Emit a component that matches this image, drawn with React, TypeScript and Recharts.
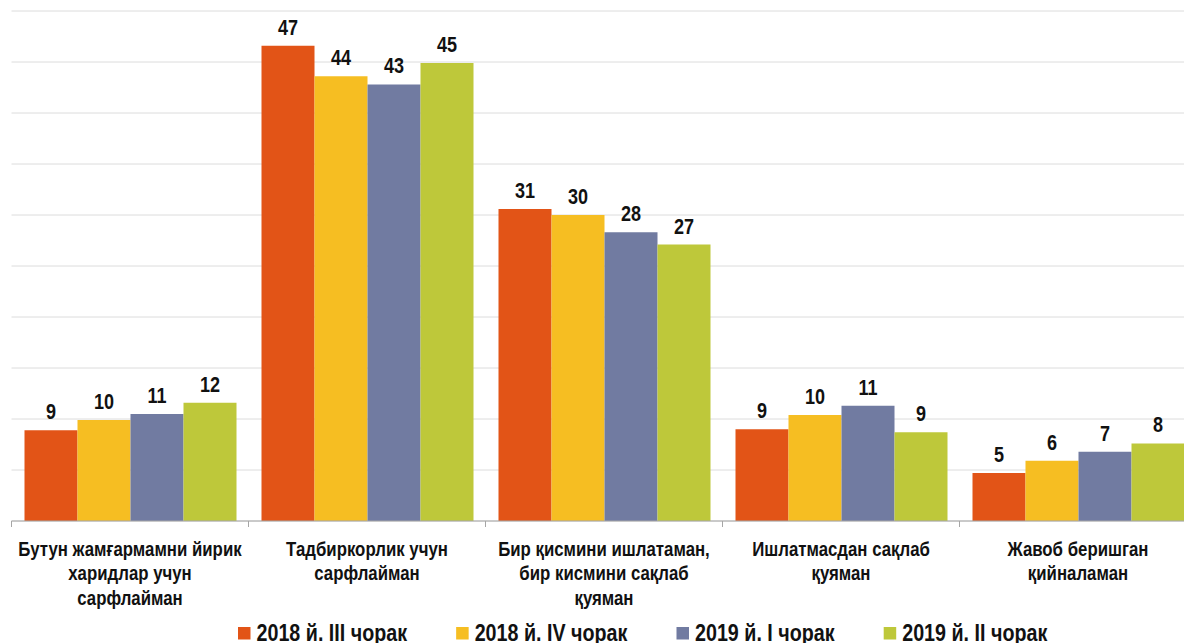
import { BarChart, Bar, XAxis, YAxis, CartesianGrid, LabelList } from "recharts";

const categories = [
    "Бутун жамғармамни йирик\nхаридлар учун\nсарфлайман",
    "Тадбиркорлик учун\nсарфлайман",
    "Бир қисмини ишлатаман,\nбир кисмини сақлаб\nқуяман",
    "Ишлатмасдан сақлаб\nқуяман",
    "Жавоб беришган\nқийналаман",
];

const seriesNames = ["2018 й. III чорак", "2018 й. IV чорак", "2019 й. I чорак", "2019 й. II чорак"];
const seriesColors = ["#E25417", "#F6BE22", "#717BA1", "#BEC83A"];

const q3_2018 = [8.9, 46.6, 30.6, 9.0, 4.7];
const q4_2018 = [9.9, 43.6, 30.0, 10.4, 5.9];
const q1_2019 = [10.5, 42.8, 28.3, 11.3, 6.8];
const q2_2019 = [11.6, 44.9, 27.1, 8.7, 7.6];

const yTicks = [0, 5, 10, 15, 20, 25, 30, 35, 40, 45, 50];

const data = categories.map((name, i) => ({
    name,
    s0: q3_2018[i],
    s1: q4_2018[i],
    s2: q1_2019[i],
    s3: q2_2019[i],
}));

// Arial Narrow look: Liberation Sans Bold squeezed horizontally
const FONT = "'Liberation Sans', Arial, sans-serif";
const NARROW = 0.82;
const LEGEND_NARROW = 0.857;

const LEFT = 11.5;
const BAND = 237;
const CHART_W = LEFT + BAND * categories.length + 2;

function CategoryTick(props: any) {
    const { x, y, payload, index } = props;
    const lines = String(payload.value).split("\n");
    const left = x - BAND / 2;
    return (
        <g>
            <line x1={left} y1={y} x2={left} y2={y + 6} stroke="#a6a6a6" />
            {index === categories.length - 1 && (
                <line x1={x + BAND / 2} y1={y} x2={x + BAND / 2} y2={y + 6} stroke="#a6a6a6" />
            )}
            <text
                transform={`translate(${x} ${y + 35}) scale(${NARROW} 1)`}
                x={0}
                y={0}
                textAnchor="middle"
                fontFamily={FONT}
                fontWeight="bold"
                fontSize={20.5}
                fill="#111"
            >
                {lines.map((l, i) => (
                    <tspan key={i} x={0} dy={i === 0 ? 0 : 24.5}>
                        {l}
                    </tspan>
                ))}
            </text>
        </g>
    );
}

function ValueLabel(props: any) {
    const { x, y, width, value } = props;
    const cx = Number(x) + Number(width) / 2;
    return (
        <text
            transform={`translate(${cx} ${Number(y) - 11}) scale(${NARROW} 1)`}
            textAnchor="middle"
            fontFamily={FONT}
            fontWeight="bold"
            fontSize={22}
            fill="#111"
        >
            {Math.round(Number(value))}
        </text>
    );
}

function measure(text: string, size: number) {
    const c = document.createElement("canvas").getContext("2d");
    if (!c) return text.length * size * 0.5;
    c.font = `bold ${size}px 'Liberation Sans', Arial, sans-serif`;
    return c.measureText(text).width * LEGEND_NARROW;
}

function LegendBar() {
    const size = 23;
    let cursor = 238;
    const items = seriesNames.map((n, i) => {
        const sx = cursor;
        const tx = sx + 18.5;
        const w = measure(n, size);
        cursor = tx + w + 49;
        return (
            <g key={n}>
                <rect x={sx} y={627} width={12.5} height={12.5} fill={seriesColors[i]} />
                <text
                    transform={`translate(${tx} 640.5) scale(${LEGEND_NARROW} 1)`}
                    fontFamily={FONT}
                    fontWeight="bold"
                    fontSize={size}
                    fill="#111"
                >
                    {n}
                </text>
            </g>
        );
    });
    return (
        <svg width={1184} height={643} style={{ position: "absolute", left: 0, top: 0, pointerEvents: "none" }}>
            {items}
        </svg>
    );
}

export default function App() {
    return (
        <div
            style={{
                position: "fixed",
                left: 0,
                top: 0,
                width: 1184,
                height: 643,
                overflow: "hidden",
                background: "#fff",
            }}
        >
            <BarChart
                width={CHART_W}
                height={643}
                data={data}
                margin={{ top: 11, right: 2, bottom: 0, left: LEFT }}
                barCategoryGap={13}
                barGap={0}
            >
                <CartesianGrid horizontal vertical={false} stroke="#dcdcdc" />
                <YAxis hide domain={[0, 50]} ticks={yTicks} width={0} />
                <XAxis
                    dataKey="name"
                    height={122}
                    interval={0}
                    tickLine={false}
                    tickSize={0}
                    tickMargin={0}
                    axisLine={{ stroke: "#a6a6a6" }}
                    tick={<CategoryTick />}
                />
                {["s0", "s1", "s2", "s3"].map((k, i) => (
                    <Bar key={k} dataKey={k} fill={seriesColors[i]} isAnimationActive={false}>
                        <LabelList dataKey={k} position="top" content={<ValueLabel />} />
                    </Bar>
                ))}
            </BarChart>
            <LegendBar />
        </div>
    );
}
